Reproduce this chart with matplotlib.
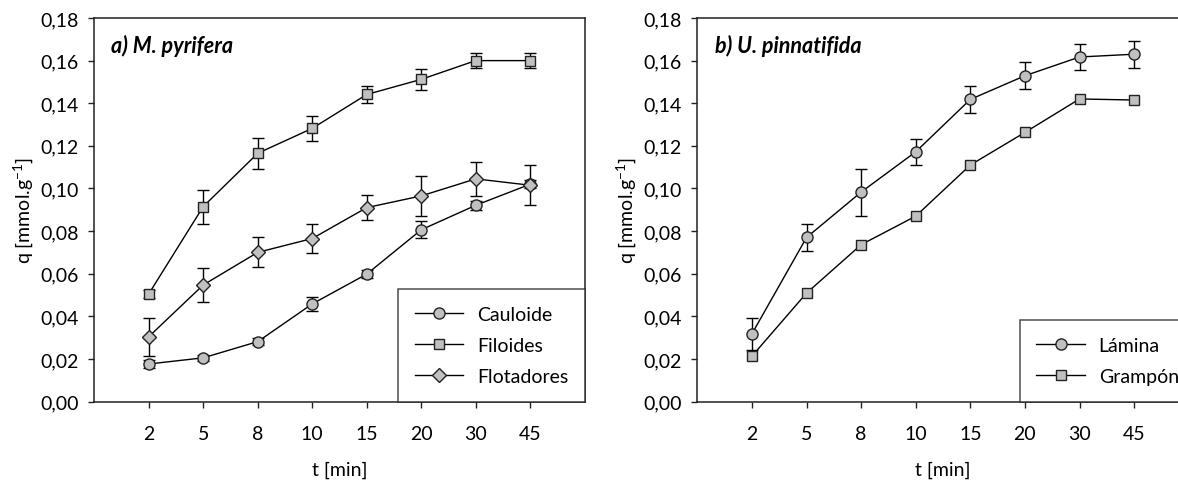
import matplotlib
matplotlib.use("Agg")
import matplotlib.pyplot as plt
from matplotlib.ticker import FuncFormatter

plt.rcParams["font.family"] = ["Lato", "DejaVu Sans"]

# Data
t_labels = ["2", "5", "8", "10", "15", "20", "30", "45"]

# a) M. pyrifera
cauloide = [0.0176, 0.0205, 0.0281, 0.0458, 0.0598, 0.0806, 0.0921, 0.1020]
cauloide_err = [0.0020, 0.0015, 0.0015, 0.0033, 0.0020, 0.0040, 0.0020, 0.0020]
filoides = [0.0505, 0.0915, 0.1165, 0.1282, 0.1441, 0.1512, 0.1600, 0.1600]
filoides_err = [0.0020, 0.0080, 0.0073, 0.0060, 0.0042, 0.0050, 0.0035, 0.0035]
flotadores = [0.0304, 0.0547, 0.0700, 0.0765, 0.0910, 0.0965, 0.1045, 0.1015]
flotadores_err = [0.0090, 0.0080, 0.0070, 0.0070, 0.0060, 0.0093, 0.0080, 0.0094]

# b) U. pinnatifida
lamina = [0.0318, 0.0770, 0.0983, 0.1172, 0.1418, 0.1529, 0.1617, 0.1630]
lamina_err = [0.0074, 0.0063, 0.0110, 0.0060, 0.0063, 0.0063, 0.0062, 0.0063]
grampon = [0.0213, 0.0509, 0.0736, 0.0870, 0.1110, 0.1263, 0.1420, 0.1415]

x = list(range(1, len(t_labels) + 1))

FACE = "#c0c0c0"
FS = 14


def comma_fmt(v, pos):
    return f"{v:.2f}".replace(".", ",")


def style_axes(ax, title):
    ax.set_xlim(0, 9)
    ax.set_ylim(0, 0.18)
    ax.set_xticks(x)
    ax.set_xticklabels(t_labels)
    ax.set_yticks([i * 0.02 for i in range(10)])
    ax.yaxis.set_major_formatter(FuncFormatter(comma_fmt))
    ax.tick_params(axis="both", direction="out", length=4, width=1,
                   labelsize=FS, color="#222222")
    ax.tick_params(axis="x", pad=13)
    ax.tick_params(axis="y", pad=7)
    for s in ax.spines.values():
        s.set_linewidth(1.1)
        s.set_color("#222222")
    ax.set_xlabel("t [min]", fontsize=FS, labelpad=13)
    ax.set_ylabel("q [mmol.g$^{\\mathregular{-1}}$]", fontsize=FS, labelpad=3)
    ax.text(0.035, 0.93, title, transform=ax.transAxes, fontsize=FS + 1.5,
            fontweight="bold", fontstyle="italic", va="center", ha="left")


def series(ax, y, err, marker, ms):
    c = ax.errorbar(x, y, yerr=err, color="black", lw=1, elinewidth=1,
                    capsize=4, capthick=1, marker=marker, ms=ms,
                    mfc=FACE, mec="#222222", mew=1)
    return c[0]


def add_legend(ax, handles, labels, anchor, loc):
    leg = ax.legend(handles, labels, loc=loc, bbox_to_anchor=anchor,
                    fontsize=FS, frameon=True, fancybox=False,
                    handlelength=2.5, handletextpad=0.7, labelspacing=0.72,
                    borderpad=0.85, borderaxespad=0)
    leg.get_frame().set_edgecolor("#222222")
    leg.get_frame().set_linewidth(1.1)
    return leg


fig = plt.figure(figsize=(11.78, 4.81), dpi=100)

ax1 = fig.add_axes([0.0800, 0.1632, 0.4164, 0.7973])
h1 = series(ax1, cauloide, cauloide_err, "o", 8)
h2 = series(ax1, filoides, filoides_err, "s", 7.5)
h3 = series(ax1, flotadores, flotadores_err, "D", 7)
style_axes(ax1, "a) M. pyrifera")
add_legend(ax1, [h1, h2, h3], ["Cauloide", "Filoides", "Flotadores"],
           (1.0, 0.0), "lower right")

ax2 = fig.add_axes([0.5920, 0.1632, 0.4171, 0.7973])
h4 = series(ax2, lamina, lamina_err, "o", 8)
h5, = ax2.plot(x, grampon, color="black", lw=1, marker="s", ms=7.5,
               mfc=FACE, mec="#222222", mew=1)
style_axes(ax2, "b) U. pinnatifida")
add_legend(ax2, [h4, h5], ["Lámina", "Grampón"], (0.6565, 0.0), "lower left")

fig.savefig("out.png", dpi=100)
